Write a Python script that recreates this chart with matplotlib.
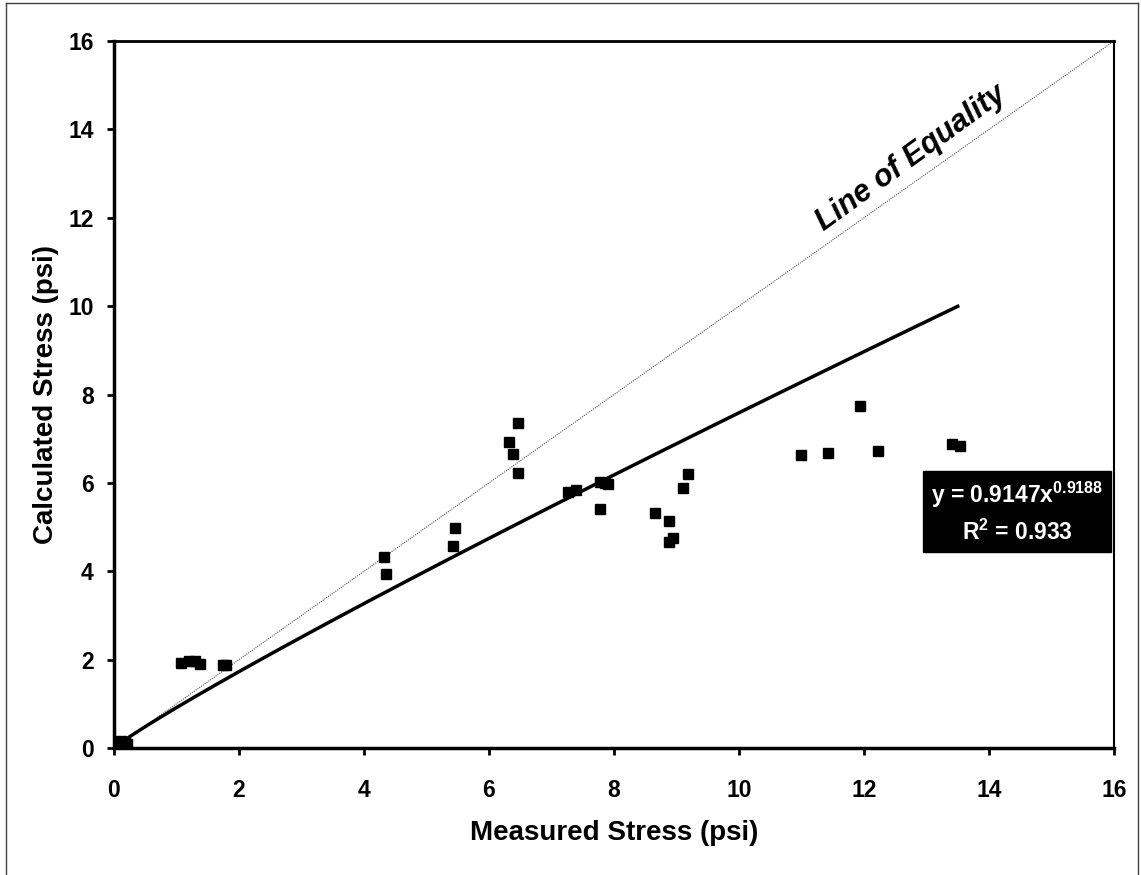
import matplotlib
matplotlib.use("Agg")
import matplotlib.pyplot as plt
import numpy as np
from matplotlib.lines import Line2D

plt.rcParams["font.family"] = ["Liberation Sans", "DejaVu Sans"]
plt.rcParams["font.weight"] = "bold"
plt.rcParams["mathtext.fontset"] = "custom"
plt.rcParams["mathtext.rm"] = "Liberation Sans:bold"
plt.rcParams["mathtext.default"] = "rm"

# measured vs calculated stress (psi)
measured = [0.08, 0.12, 0.17, 0.21,
            1.08, 1.2, 1.29, 1.37, 1.75, 1.8,
            4.32, 4.35, 5.42, 5.45,
            6.32, 6.38, 6.46, 6.46,
            7.27, 7.4, 7.78, 7.86, 7.9, 7.78,
            8.66, 8.88, 8.88, 8.95, 9.1, 9.18,
            11.0, 11.43, 11.93, 12.22, 13.41, 13.54]
calculated = [0.1, 0.15, 0.12, 0.1,
              1.93, 1.97, 1.97, 1.9, 1.88, 1.87,
              4.33, 3.93, 4.58, 4.99,
              6.92, 6.65, 7.36, 6.22,
              5.80, 5.84, 6.03, 6.0, 5.97, 5.41,
              5.33, 5.14, 4.67, 4.76, 5.89, 6.2,
              6.64, 6.67, 7.73, 6.73, 6.88, 6.84]

# power fit y = a * x^b
fit_a = 0.9147
fit_b = 0.9188
fit_r2 = 0.933
fit_range = (0.15, 13.5)

fig = plt.figure(figsize=(11.41, 8.75), dpi=100)
ax = fig.add_axes([0.0999, 0.1451, 0.8764, 0.808])

ax.plot([0, 16], [0, 16], color="#555555", linestyle=(0, (1, 1)), linewidth=0.8)

xf = np.linspace(fit_range[0], fit_range[1], 200)
ax.plot(xf, fit_a * xf ** fit_b, color="black", linewidth=2.5)

ax.plot(measured, calculated, linestyle="none", marker="s", markersize=7.5,
        color="black")

ax.set_xlim(0, 16)
ax.set_ylim(0, 16)
ax.set_xticks(range(0, 17, 2))
ax.set_yticks(range(0, 17, 2))
ax.tick_params(direction="out", length=5, width=2, labelsize=16.5)
ax.tick_params(axis="x", pad=17)
ax.tick_params(axis="y", pad=9.5)
for lbl in ax.get_xticklabels() + ax.get_yticklabels():
    lbl.set_fontweight("bold")

for side in ("left", "bottom"):
    ax.spines[side].set_linewidth(2.5)
ax.spines["top"].set_linewidth(2)
ax.spines["right"].set_linewidth(1.5)

ax.set_xlabel("Measured Stress (psi)", fontsize=20, fontweight="bold")
ax.set_ylabel("Calculated Stress (psi)", fontsize=20, fontweight="bold")
ax.xaxis.set_label_coords(0.5, -0.102)
ax.yaxis.set_label_coords(-0.055, 0.5)

ax.text(12.75, 13.35, "Line of Equality", fontsize=22, fontweight="heavy",
        fontstyle="italic", rotation=36, ha="center", va="center",
        rotation_mode="anchor")

ax.text(14.45, 5.33,
        f"y = {fit_a:.4f}x$^{{{fit_b:.4f}}}$\nR$^{{2}}$ = {fit_r2:.3f}",
        fontsize=16.5, fontweight="bold", color="white", ha="center", va="center",
        linespacing=1.45,
        bbox=dict(boxstyle="square,pad=0.33", facecolor="black", edgecolor="black"))

# outer frame of the chart area
frame_kw = dict(transform=fig.transFigure, color="#404040", linewidth=1.0)
fig.add_artist(Line2D([0.0053, 0.0053], [0, 0.9966], **frame_kw))
fig.add_artist(Line2D([0.0053, 0.9974], [0.9966, 0.9966], **frame_kw))
fig.add_artist(Line2D([0.9974, 0.9974], [0, 0.9966], **frame_kw))

fig.savefig("out.png", dpi=100)
